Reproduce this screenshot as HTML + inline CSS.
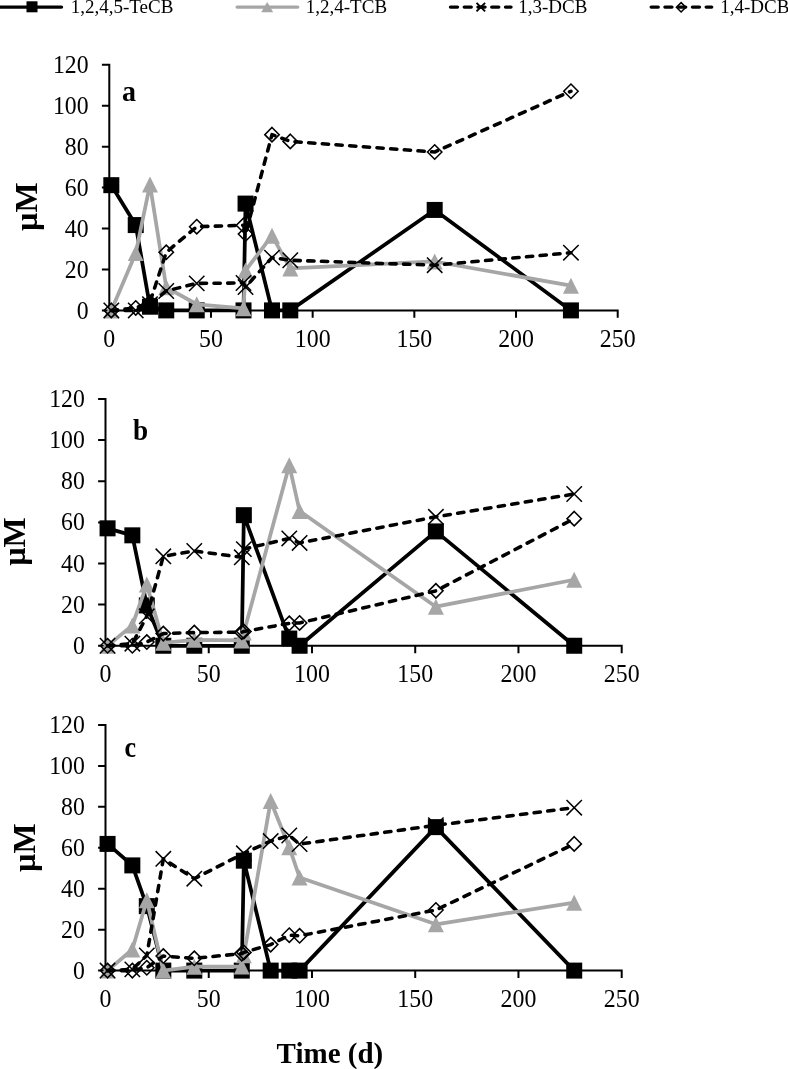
<!DOCTYPE html>
<html><head><meta charset="utf-8"><title>Chart</title>
<style>
html,body{margin:0;padding:0;background:#fff;}
body{width:788px;height:1069px;overflow:hidden;font-family:"Liberation Serif",serif;}
svg{display:block;will-change:transform;}
</style></head>
<body>
<svg width="788" height="1069" viewBox="0 0 788 1069">
<rect width="788" height="1069" fill="#fff"/>
<g id="panel-a">
<path d="M109.3 64.85L109.3 310.4L617.7 310.4M102.9 310.4L109.3 310.4M102.9 269.47L109.3 269.47M102.9 228.55L109.3 228.55M102.9 187.62L109.3 187.62M102.9 146.7L109.3 146.7M102.9 105.78L109.3 105.78M102.9 64.85L109.3 64.85M109.3 310.4L109.3 316.8M210.98 310.4L210.98 316.8M312.66 310.4L312.66 316.8M414.34 310.4L414.34 316.8M516.02 310.4L516.02 316.8M617.7 310.4L617.7 316.8" stroke="#000" stroke-width="2.0" fill="none" stroke-linecap="square"/>
<g font-family='"Liberation Serif", serif' font-size="24" fill="#000">
<text transform="translate(88.6 318.5) scale(0.99 1.05)" text-anchor="end">0</text>
<text transform="translate(88.6 277.57) scale(0.99 1.05)" text-anchor="end">20</text>
<text transform="translate(88.6 236.65) scale(0.99 1.05)" text-anchor="end">40</text>
<text transform="translate(88.6 195.72) scale(0.99 1.05)" text-anchor="end">60</text>
<text transform="translate(88.6 154.8) scale(0.99 1.05)" text-anchor="end">80</text>
<text transform="translate(88.6 113.88) scale(0.99 1.05)" text-anchor="end">100</text>
<text transform="translate(88.6 72.95) scale(0.99 1.05)" text-anchor="end">120</text>
<text transform="translate(109.3 346.8) scale(0.995 1.045)" text-anchor="middle">0</text>
<text transform="translate(210.98 346.8) scale(0.995 1.045)" text-anchor="middle">50</text>
<text transform="translate(312.66 346.8) scale(0.995 1.045)" text-anchor="middle">100</text>
<text transform="translate(414.34 346.8) scale(0.995 1.045)" text-anchor="middle">150</text>
<text transform="translate(516.02 346.8) scale(0.995 1.045)" text-anchor="middle">200</text>
<text transform="translate(617.7 346.8) scale(0.995 1.045)" text-anchor="middle">250</text>
</g>
<text transform="translate(122 100.6) scale(1.0 1.055)" font-family='"Liberation Serif", serif' font-size="28" font-weight="bold">a</text>
<text transform="translate(36.8 206.6) rotate(-90)" text-anchor="middle" font-family='"Liberation Serif", serif' font-size="32" font-weight="bold">µM</text>
<polyline points="111.33,185.17 135.74,225.07 149.97,306.72 166.24,310.4 196.74,310.4 243.52,310.4 245.55,203.59 271.99,310.4 290.29,310.4 434.68,209.93 570.93,310.4" fill="none" stroke="#000" stroke-width="3.75" stroke-linejoin="round" stroke-linecap="round"/>
<rect x="103.33" y="177.17" width="16" height="16" fill="#000"/>
<rect x="127.74" y="217.07" width="16" height="16" fill="#000"/>
<rect x="141.97" y="298.72" width="16" height="16" fill="#000"/>
<rect x="158.24" y="302.4" width="16" height="16" fill="#000"/>
<rect x="188.74" y="302.4" width="16" height="16" fill="#000"/>
<rect x="235.52" y="302.4" width="16" height="16" fill="#000"/>
<rect x="237.55" y="195.59" width="16" height="16" fill="#000"/>
<rect x="263.99" y="302.4" width="16" height="16" fill="#000"/>
<rect x="282.29" y="302.4" width="16" height="16" fill="#000"/>
<rect x="426.68" y="201.93" width="16" height="16" fill="#000"/>
<rect x="562.93" y="302.4" width="16" height="16" fill="#000"/>
<polyline points="111.33,310.4 135.74,253.1 149.97,184.56 166.24,287.28 196.74,304.26 243.52,308.35 245.55,270.5 271.99,235.71 290.29,268.45 434.68,261.49 570.93,285.64" fill="none" stroke="#a6a6a6" stroke-width="3.75" stroke-linejoin="round" stroke-linecap="round"/>
<path d="M111.33 302.4L119.33 318.4L103.33 318.4Z" fill="#a6a6a6"/>
<path d="M135.74 245.1L143.74 261.11L127.74 261.11Z" fill="#a6a6a6"/>
<path d="M149.97 176.56L157.97 192.56L141.97 192.56Z" fill="#a6a6a6"/>
<path d="M166.24 279.28L174.24 295.28L158.24 295.28Z" fill="#a6a6a6"/>
<path d="M196.74 296.26L204.74 312.26L188.74 312.26Z" fill="#a6a6a6"/>
<path d="M243.52 300.35L251.52 316.35L235.52 316.35Z" fill="#a6a6a6"/>
<path d="M245.55 262.5L253.55 278.5L237.55 278.5Z" fill="#a6a6a6"/>
<path d="M271.99 227.71L279.99 243.71L263.99 243.71Z" fill="#a6a6a6"/>
<path d="M290.29 260.45L298.29 276.45L282.29 276.45Z" fill="#a6a6a6"/>
<path d="M434.68 253.49L442.68 269.49L426.68 269.49Z" fill="#a6a6a6"/>
<path d="M570.93 277.64L578.93 293.64L562.93 293.64Z" fill="#a6a6a6"/>
<polyline points="111.33,310.4 135.74,310.4 149.97,304.26 166.24,290.96 196.74,283.39 243.52,282.98 245.55,287.07 271.99,257.61 290.29,260.27 434.68,265.18 570.93,252.7" fill="none" stroke="#000" stroke-width="3.55" stroke-linejoin="round" stroke-linecap="round" stroke-dasharray="6.3 7.4"/>
<path d="M103.63 302.7L119.03 318.1M103.63 318.1L119.03 302.7" stroke="#000" stroke-width="1.5" fill="none"/>
<path d="M128.04 302.7L143.44 318.1M128.04 318.1L143.44 302.7" stroke="#000" stroke-width="1.5" fill="none"/>
<path d="M142.27 296.56L157.67 311.96M142.27 311.96L157.67 296.56" stroke="#000" stroke-width="1.5" fill="none"/>
<path d="M158.54 283.26L173.94 298.66M158.54 298.66L173.94 283.26" stroke="#000" stroke-width="1.5" fill="none"/>
<path d="M189.04 275.69L204.44 291.09M189.04 291.09L204.44 275.69" stroke="#000" stroke-width="1.5" fill="none"/>
<path d="M235.82 275.28L251.22 290.68M235.82 290.68L251.22 275.28" stroke="#000" stroke-width="1.5" fill="none"/>
<path d="M237.85 279.37L253.25 294.77M237.85 294.77L253.25 279.37" stroke="#000" stroke-width="1.5" fill="none"/>
<path d="M264.29 249.91L279.69 265.31M264.29 265.31L279.69 249.91" stroke="#000" stroke-width="1.5" fill="none"/>
<path d="M282.59 252.57L297.99 267.97M282.59 267.97L297.99 252.57" stroke="#000" stroke-width="1.5" fill="none"/>
<path d="M426.98 257.48L442.38 272.88M426.98 272.88L442.38 257.48" stroke="#000" stroke-width="1.5" fill="none"/>
<path d="M563.23 245L578.63 260.4M563.23 260.4L578.63 245" stroke="#000" stroke-width="1.5" fill="none"/>
<path d="M111.33 303.2L118.53 310.4L111.33 317.6L104.13 310.4Z" stroke="#000" stroke-width="1.55" fill="none"/>
<path d="M135.74 300.74L142.94 307.94L135.74 315.14L128.54 307.94Z" stroke="#000" stroke-width="1.55" fill="none"/>
<path d="M149.97 295.01L157.17 302.21L149.97 309.41L142.77 302.21Z" stroke="#000" stroke-width="1.55" fill="none"/>
<path d="M166.24 245.09L173.44 252.29L166.24 259.49L159.04 252.29Z" stroke="#000" stroke-width="1.55" fill="none"/>
<path d="M196.74 219.51L203.94 226.71L196.74 233.91L189.54 226.71Z" stroke="#000" stroke-width="1.55" fill="none"/>
<path d="M243.52 218.08L250.72 225.28L243.52 232.48L236.32 225.28Z" stroke="#000" stroke-width="1.55" fill="none"/>
<path d="M245.55 226.87L252.75 234.07L245.55 241.27L238.35 234.07Z" stroke="#000" stroke-width="1.55" fill="none"/>
<path d="M271.99 127.43L279.19 134.63L271.99 141.83L264.79 134.63Z" stroke="#000" stroke-width="1.55" fill="none"/>
<path d="M290.29 134.18L297.49 141.38L290.29 148.58L283.09 141.38Z" stroke="#000" stroke-width="1.55" fill="none"/>
<path d="M434.68 144.82L441.88 152.02L434.68 159.22L427.48 152.02Z" stroke="#000" stroke-width="1.55" fill="none"/>
<path d="M570.93 84.05L578.13 91.25L570.93 98.45L563.73 91.25Z" stroke="#000" stroke-width="1.55" fill="none"/>
<polyline points="111.33,310.4 135.74,307.94 149.97,302.21 166.24,252.29 196.74,226.71 243.52,225.28 245.55,234.07 271.99,134.63 290.29,141.38 434.68,152.02 570.93,91.25" fill="none" stroke="#000" stroke-width="3.55" stroke-linejoin="round" stroke-linecap="round" stroke-dasharray="6.3 7.4"/>
</g>
<g id="panel-b">
<path d="M105.5 399L105.5 645.75L621.7 645.75M99.1 645.75L105.5 645.75M99.1 604.62L105.5 604.62M99.1 563.5L105.5 563.5M99.1 522.38L105.5 522.38M99.1 481.25L105.5 481.25M99.1 440.12L105.5 440.12M99.1 399L105.5 399M105.5 645.75L105.5 652.15M208.74 645.75L208.74 652.15M311.98 645.75L311.98 652.15M415.22 645.75L415.22 652.15M518.46 645.75L518.46 652.15M621.7 645.75L621.7 652.15" stroke="#000" stroke-width="2.0" fill="none" stroke-linecap="square"/>
<g font-family='"Liberation Serif", serif' font-size="24" fill="#000">
<text transform="translate(84.8 653.85) scale(0.99 1.05)" text-anchor="end">0</text>
<text transform="translate(84.8 612.73) scale(0.99 1.05)" text-anchor="end">20</text>
<text transform="translate(84.8 571.6) scale(0.99 1.05)" text-anchor="end">40</text>
<text transform="translate(84.8 530.48) scale(0.99 1.05)" text-anchor="end">60</text>
<text transform="translate(84.8 489.35) scale(0.99 1.05)" text-anchor="end">80</text>
<text transform="translate(84.8 448.23) scale(0.99 1.05)" text-anchor="end">100</text>
<text transform="translate(84.8 407.1) scale(0.99 1.05)" text-anchor="end">120</text>
<text transform="translate(105.5 682.15) scale(0.995 1.045)" text-anchor="middle">0</text>
<text transform="translate(208.74 682.15) scale(0.995 1.045)" text-anchor="middle">50</text>
<text transform="translate(311.98 682.15) scale(0.995 1.045)" text-anchor="middle">100</text>
<text transform="translate(415.22 682.15) scale(0.995 1.045)" text-anchor="middle">150</text>
<text transform="translate(518.46 682.15) scale(0.995 1.045)" text-anchor="middle">200</text>
<text transform="translate(621.7 682.15) scale(0.995 1.045)" text-anchor="middle">250</text>
</g>
<text transform="translate(133.1 440.3) scale(0.97 1.03)" font-family='"Liberation Serif", serif' font-size="28" font-weight="bold">b</text>
<text transform="translate(25.4 541.5) rotate(-90)" text-anchor="middle" font-family='"Liberation Serif", serif' font-size="32" font-weight="bold">µM</text>
<polyline points="107.56,528.34 132.34,535.33 146.8,605.45 163.31,645.75 194.29,645.75 241.78,645.75 243.84,515.18 289.27,638.55 299.59,645.75 435.87,531.42 574.21,645.75" fill="none" stroke="#000" stroke-width="3.75" stroke-linejoin="round" stroke-linecap="round"/>
<rect x="99.56" y="520.34" width="16" height="16" fill="#000"/>
<rect x="124.34" y="527.33" width="16" height="16" fill="#000"/>
<rect x="138.8" y="597.45" width="16" height="16" fill="#000"/>
<rect x="155.31" y="637.75" width="16" height="16" fill="#000"/>
<rect x="186.29" y="637.75" width="16" height="16" fill="#000"/>
<rect x="233.78" y="637.75" width="16" height="16" fill="#000"/>
<rect x="235.84" y="507.18" width="16" height="16" fill="#000"/>
<rect x="281.27" y="630.55" width="16" height="16" fill="#000"/>
<rect x="291.59" y="637.75" width="16" height="16" fill="#000"/>
<rect x="427.87" y="523.42" width="16" height="16" fill="#000"/>
<rect x="566.21" y="637.75" width="16" height="16" fill="#000"/>
<polyline points="107.56,645.75 132.34,625.39 146.8,584.58 163.31,642.87 194.29,639.79 241.78,640.4 243.84,632.59 289.27,465.21 299.59,511.07 435.87,606.68 574.21,579.74" fill="none" stroke="#a6a6a6" stroke-width="3.75" stroke-linejoin="round" stroke-linecap="round"/>
<path d="M107.56 637.75L115.56 653.75L99.56 653.75Z" fill="#a6a6a6"/>
<path d="M132.34 617.39L140.34 633.39L124.34 633.39Z" fill="#a6a6a6"/>
<path d="M146.8 576.58L154.8 592.58L138.8 592.58Z" fill="#a6a6a6"/>
<path d="M163.31 634.87L171.31 650.87L155.31 650.87Z" fill="#a6a6a6"/>
<path d="M194.29 631.79L202.29 647.79L186.29 647.79Z" fill="#a6a6a6"/>
<path d="M241.78 632.4L249.78 648.4L233.78 648.4Z" fill="#a6a6a6"/>
<path d="M243.84 624.59L251.84 640.59L235.84 640.59Z" fill="#a6a6a6"/>
<path d="M289.27 457.21L297.27 473.21L281.27 473.21Z" fill="#a6a6a6"/>
<path d="M299.59 503.07L307.59 519.07L291.59 519.07Z" fill="#a6a6a6"/>
<path d="M435.87 598.68L443.87 614.68L427.87 614.68Z" fill="#a6a6a6"/>
<path d="M574.21 571.74L582.21 587.74L566.21 587.74Z" fill="#a6a6a6"/>
<polyline points="107.56,645.75 132.34,643.69 146.8,616.35 163.31,556.3 194.29,550.96 241.78,557.33 243.84,549.11 289.27,538.41 299.59,542.94 435.87,516.82 574.21,494" fill="none" stroke="#000" stroke-width="3.55" stroke-linejoin="round" stroke-linecap="round" stroke-dasharray="6.3 7.4"/>
<path d="M99.86 638.05L115.26 653.45M99.86 653.45L115.26 638.05" stroke="#000" stroke-width="1.5" fill="none"/>
<path d="M124.64 635.99L140.04 651.39M124.64 651.39L140.04 635.99" stroke="#000" stroke-width="1.5" fill="none"/>
<path d="M139.1 608.65L154.5 624.05M139.1 624.05L154.5 608.65" stroke="#000" stroke-width="1.5" fill="none"/>
<path d="M155.61 548.6L171.01 564M155.61 564L171.01 548.6" stroke="#000" stroke-width="1.5" fill="none"/>
<path d="M186.59 543.26L201.99 558.66M186.59 558.66L201.99 543.26" stroke="#000" stroke-width="1.5" fill="none"/>
<path d="M234.08 549.63L249.48 565.03M234.08 565.03L249.48 549.63" stroke="#000" stroke-width="1.5" fill="none"/>
<path d="M236.14 541.41L251.54 556.81M236.14 556.81L251.54 541.41" stroke="#000" stroke-width="1.5" fill="none"/>
<path d="M281.57 530.71L296.97 546.11M281.57 546.11L296.97 530.71" stroke="#000" stroke-width="1.5" fill="none"/>
<path d="M291.89 535.24L307.29 550.64M291.89 550.64L307.29 535.24" stroke="#000" stroke-width="1.5" fill="none"/>
<path d="M428.17 509.12L443.57 524.52M428.17 524.52L443.57 509.12" stroke="#000" stroke-width="1.5" fill="none"/>
<path d="M566.51 486.3L581.91 501.7M566.51 501.7L581.91 486.3" stroke="#000" stroke-width="1.5" fill="none"/>
<path d="M107.56 638.55L114.76 645.75L107.56 652.95L100.36 645.75Z" stroke="#000" stroke-width="1.55" fill="none"/>
<path d="M132.34 638.55L139.54 645.75L132.34 652.95L125.14 645.75Z" stroke="#000" stroke-width="1.55" fill="none"/>
<path d="M146.8 634.85L154 642.05L146.8 649.25L139.6 642.05Z" stroke="#000" stroke-width="1.55" fill="none"/>
<path d="M163.31 626.42L170.51 633.62L163.31 640.82L156.11 633.62Z" stroke="#000" stroke-width="1.55" fill="none"/>
<path d="M194.29 625.39L201.49 632.59L194.29 639.79L187.09 632.59Z" stroke="#000" stroke-width="1.55" fill="none"/>
<path d="M241.78 624.98L248.98 632.18L241.78 639.38L234.58 632.18Z" stroke="#000" stroke-width="1.55" fill="none"/>
<path d="M243.84 624.36L251.04 631.56L243.84 638.76L236.64 631.56Z" stroke="#000" stroke-width="1.55" fill="none"/>
<path d="M289.27 616.14L296.47 623.34L289.27 630.54L282.07 623.34Z" stroke="#000" stroke-width="1.55" fill="none"/>
<path d="M299.59 615.73L306.79 622.93L299.59 630.13L292.39 622.93Z" stroke="#000" stroke-width="1.55" fill="none"/>
<path d="M435.87 583.65L443.07 590.85L435.87 598.05L428.67 590.85Z" stroke="#000" stroke-width="1.55" fill="none"/>
<path d="M574.21 511.47L581.41 518.67L574.21 525.87L567.01 518.67Z" stroke="#000" stroke-width="1.55" fill="none"/>
<polyline points="107.56,645.75 132.34,645.75 146.8,642.05 163.31,633.62 194.29,632.59 241.78,632.18 243.84,631.56 289.27,623.34 299.59,622.93 435.87,590.85 574.21,518.67" fill="none" stroke="#000" stroke-width="3.55" stroke-linejoin="round" stroke-linecap="round" stroke-dasharray="6.3 7.4"/>
</g>
<g id="panel-c">
<path d="M105.5 725L105.5 970.6L621.7 970.6M99.1 970.6L105.5 970.6M99.1 929.67L105.5 929.67M99.1 888.73L105.5 888.73M99.1 847.8L105.5 847.8M99.1 806.87L105.5 806.87M99.1 765.93L105.5 765.93M99.1 725L105.5 725M105.5 970.6L105.5 977M208.74 970.6L208.74 977M311.98 970.6L311.98 977M415.22 970.6L415.22 977M518.46 970.6L518.46 977M621.7 970.6L621.7 977" stroke="#000" stroke-width="2.0" fill="none" stroke-linecap="square"/>
<g font-family='"Liberation Serif", serif' font-size="24" fill="#000">
<text transform="translate(84.8 978.7) scale(0.99 1.05)" text-anchor="end">0</text>
<text transform="translate(84.8 937.77) scale(0.99 1.05)" text-anchor="end">20</text>
<text transform="translate(84.8 896.83) scale(0.99 1.05)" text-anchor="end">40</text>
<text transform="translate(84.8 855.9) scale(0.99 1.05)" text-anchor="end">60</text>
<text transform="translate(84.8 814.97) scale(0.99 1.05)" text-anchor="end">80</text>
<text transform="translate(84.8 774.03) scale(0.99 1.05)" text-anchor="end">100</text>
<text transform="translate(84.8 733.1) scale(0.99 1.05)" text-anchor="end">120</text>
<text transform="translate(105.5 1007) scale(0.995 1.045)" text-anchor="middle">0</text>
<text transform="translate(208.74 1007) scale(0.995 1.045)" text-anchor="middle">50</text>
<text transform="translate(311.98 1007) scale(0.995 1.045)" text-anchor="middle">100</text>
<text transform="translate(415.22 1007) scale(0.995 1.045)" text-anchor="middle">150</text>
<text transform="translate(518.46 1007) scale(0.995 1.045)" text-anchor="middle">200</text>
<text transform="translate(621.7 1007) scale(0.995 1.045)" text-anchor="middle">250</text>
</g>
<text transform="translate(124.4 757.1) scale(0.93 1.08)" font-family='"Liberation Serif", serif' font-size="28" font-weight="bold">c</text>
<text transform="translate(34.5 847.6) rotate(-90)" text-anchor="middle" font-family='"Liberation Serif", serif' font-size="32" font-weight="bold">µM</text>
<polyline points="107.56,843.91 132.34,865.4 146.8,906.13 163.31,970.6 194.29,970.6 241.78,970.6 243.84,860.69 270.68,970.6 289.27,970.6 299.59,970.6 435.87,827.13 574.21,970.6" fill="none" stroke="#000" stroke-width="3.75" stroke-linejoin="round" stroke-linecap="round"/>
<rect x="99.56" y="835.91" width="16" height="16" fill="#000"/>
<rect x="124.34" y="857.4" width="16" height="16" fill="#000"/>
<rect x="138.8" y="898.13" width="16" height="16" fill="#000"/>
<rect x="155.31" y="962.6" width="16" height="16" fill="#000"/>
<rect x="186.29" y="962.6" width="16" height="16" fill="#000"/>
<rect x="233.78" y="962.6" width="16" height="16" fill="#000"/>
<rect x="235.84" y="852.69" width="16" height="16" fill="#000"/>
<rect x="262.68" y="962.6" width="16" height="16" fill="#000"/>
<rect x="281.27" y="962.6" width="16" height="16" fill="#000"/>
<rect x="291.59" y="962.6" width="16" height="16" fill="#000"/>
<rect x="427.87" y="819.13" width="16" height="16" fill="#000"/>
<rect x="566.21" y="962.6" width="16" height="16" fill="#000"/>
<polyline points="107.56,970.6 132.34,949.52 146.8,900.19 163.31,970.6 194.29,966.71 241.78,966.51 243.84,955.25 270.68,800.93 289.27,847.19 299.59,877.48 435.87,924.35 574.21,902.65" fill="none" stroke="#a6a6a6" stroke-width="3.75" stroke-linejoin="round" stroke-linecap="round"/>
<path d="M107.56 962.6L115.56 978.6L99.56 978.6Z" fill="#a6a6a6"/>
<path d="M132.34 941.52L140.34 957.52L124.34 957.52Z" fill="#a6a6a6"/>
<path d="M146.8 892.19L154.8 908.19L138.8 908.19Z" fill="#a6a6a6"/>
<path d="M163.31 962.6L171.31 978.6L155.31 978.6Z" fill="#a6a6a6"/>
<path d="M194.29 958.71L202.29 974.71L186.29 974.71Z" fill="#a6a6a6"/>
<path d="M241.78 958.51L249.78 974.51L233.78 974.51Z" fill="#a6a6a6"/>
<path d="M243.84 947.25L251.84 963.25L235.84 963.25Z" fill="#a6a6a6"/>
<path d="M270.68 792.93L278.68 808.93L262.68 808.93Z" fill="#a6a6a6"/>
<path d="M289.27 839.19L297.27 855.19L281.27 855.19Z" fill="#a6a6a6"/>
<path d="M299.59 869.48L307.59 885.48L291.59 885.48Z" fill="#a6a6a6"/>
<path d="M435.87 916.35L443.87 932.35L427.87 932.35Z" fill="#a6a6a6"/>
<path d="M574.21 894.65L582.21 910.65L566.21 910.65Z" fill="#a6a6a6"/>
<polyline points="107.56,970.6 132.34,969.37 146.8,955.45 163.31,858.85 194.29,878.7 243.84,853.33 270.68,841.05 289.27,835.52 299.59,844.12 435.87,825.29 574.21,807.69" fill="none" stroke="#000" stroke-width="3.55" stroke-linejoin="round" stroke-linecap="round" stroke-dasharray="6.3 7.4"/>
<path d="M99.86 962.9L115.26 978.3M99.86 978.3L115.26 962.9" stroke="#000" stroke-width="1.5" fill="none"/>
<path d="M124.64 961.67L140.04 977.07M124.64 977.07L140.04 961.67" stroke="#000" stroke-width="1.5" fill="none"/>
<path d="M139.1 947.75L154.5 963.15M139.1 963.15L154.5 947.75" stroke="#000" stroke-width="1.5" fill="none"/>
<path d="M155.61 851.15L171.01 866.55M155.61 866.55L171.01 851.15" stroke="#000" stroke-width="1.5" fill="none"/>
<path d="M186.59 871L201.99 886.4M186.59 886.4L201.99 871" stroke="#000" stroke-width="1.5" fill="none"/>
<path d="M236.14 845.63L251.54 861.03M236.14 861.03L251.54 845.63" stroke="#000" stroke-width="1.5" fill="none"/>
<path d="M262.98 833.35L278.38 848.75M262.98 848.75L278.38 833.35" stroke="#000" stroke-width="1.5" fill="none"/>
<path d="M281.57 827.82L296.97 843.22M281.57 843.22L296.97 827.82" stroke="#000" stroke-width="1.5" fill="none"/>
<path d="M291.89 836.42L307.29 851.82M291.89 851.82L307.29 836.42" stroke="#000" stroke-width="1.5" fill="none"/>
<path d="M428.17 817.59L443.57 832.99M428.17 832.99L443.57 817.59" stroke="#000" stroke-width="1.5" fill="none"/>
<path d="M566.51 799.99L581.91 815.39M566.51 815.39L581.91 799.99" stroke="#000" stroke-width="1.5" fill="none"/>
<path d="M107.56 963.4L114.76 970.6L107.56 977.8L100.36 970.6Z" stroke="#000" stroke-width="1.55" fill="none"/>
<path d="M132.34 963.4L139.54 970.6L132.34 977.8L125.14 970.6Z" stroke="#000" stroke-width="1.55" fill="none"/>
<path d="M146.8 960.53L154 967.73L146.8 974.93L139.6 967.73Z" stroke="#000" stroke-width="1.55" fill="none"/>
<path d="M163.31 948.87L170.51 956.07L163.31 963.27L156.11 956.07Z" stroke="#000" stroke-width="1.55" fill="none"/>
<path d="M194.29 951.12L201.49 958.32L194.29 965.52L187.09 958.32Z" stroke="#000" stroke-width="1.55" fill="none"/>
<path d="M241.78 946.41L248.98 953.61L241.78 960.81L234.58 953.61Z" stroke="#000" stroke-width="1.55" fill="none"/>
<path d="M243.84 945.18L251.04 952.38L243.84 959.58L236.64 952.38Z" stroke="#000" stroke-width="1.55" fill="none"/>
<path d="M270.68 937.41L277.88 944.61L270.68 951.81L263.48 944.61Z" stroke="#000" stroke-width="1.55" fill="none"/>
<path d="M289.27 927.99L296.47 935.19L289.27 942.39L282.07 935.19Z" stroke="#000" stroke-width="1.55" fill="none"/>
<path d="M299.59 928.61L306.79 935.81L299.59 943.01L292.39 935.81Z" stroke="#000" stroke-width="1.55" fill="none"/>
<path d="M435.87 902.82L443.07 910.02L435.87 917.22L428.67 910.02Z" stroke="#000" stroke-width="1.55" fill="none"/>
<path d="M574.21 836.71L581.41 843.91L574.21 851.11L567.01 843.91Z" stroke="#000" stroke-width="1.55" fill="none"/>
<polyline points="107.56,970.6 132.34,970.6 146.8,967.73 163.31,956.07 194.29,958.32 241.78,953.61 243.84,952.38 270.68,944.61 289.27,935.19 299.59,935.81 435.87,910.02 574.21,843.91" fill="none" stroke="#000" stroke-width="3.55" stroke-linejoin="round" stroke-linecap="round" stroke-dasharray="6.3 7.4"/>
</g>
<g id="legend">
<line x1="-1" y1="7.1" x2="61.5" y2="7.1" stroke="#000" stroke-width="3.4" stroke-linecap="round"/>
<rect x="26.5" y="1.3" width="11" height="11" fill="#000"/>
<line x1="237.2" y1="7.1" x2="297.7" y2="7.1" stroke="#a6a6a6" stroke-width="3.4" stroke-linecap="round"/>
<path d="M267.2 2L273.2 12.2L261.2 12.2Z" fill="#a6a6a6"/>
<line x1="450.5" y1="7.1" x2="511" y2="7.1" stroke="#000" stroke-width="3.4" stroke-linecap="round" stroke-dasharray="7 6.75"/>
<path d="M476.5 2.8L485.1 11.4M476.5 11.4L485.1 2.8" stroke="#000" stroke-width="1.9" fill="none"/>
<line x1="651.2" y1="7.1" x2="711.7" y2="7.1" stroke="#000" stroke-width="3.4" stroke-linecap="round" stroke-dasharray="7 6.75"/>
<path d="M681.1 2.6L685.8 7.3L681.1 12L676.4 7.3Z" stroke="#000" stroke-width="1.5" fill="none"/>
<g font-family='"Liberation Serif", serif' font-size="19" fill="#000">
<text x="70.7" y="12.7">1,2,4,5-TeCB</text>
<text x="305.8" y="12.7">1,2,4-TCB</text>
<text x="518.2" y="12.7">1,3-DCB</text>
<text x="720.2" y="12.7">1,4-DCB</text>
</g></g>
<text transform="translate(329.9 1063.2) scale(1 1.05)" text-anchor="middle" font-family='"Liberation Serif", serif' font-size="29" font-weight="bold">Time (d)</text>
</svg>
</body></html>
